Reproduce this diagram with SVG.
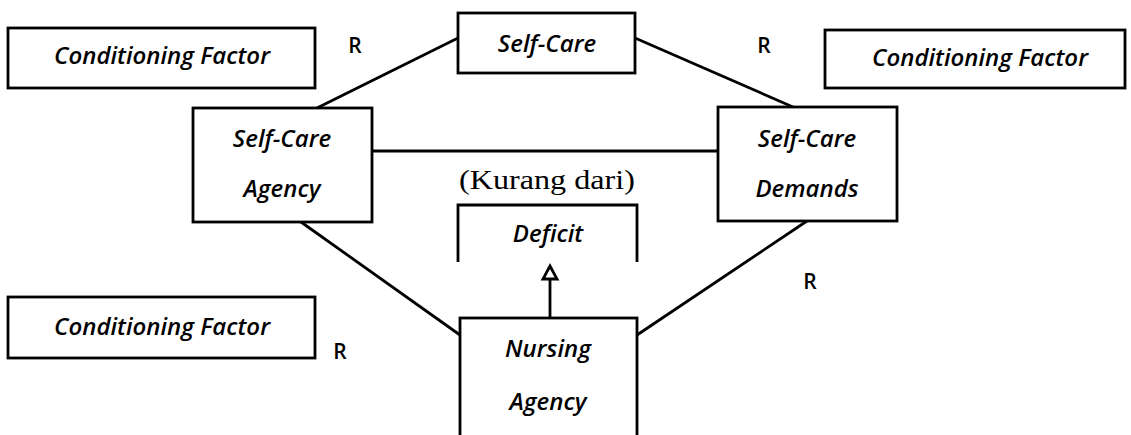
<svg xmlns="http://www.w3.org/2000/svg" width="1131" height="435" viewBox="0 0 1131 435">
<style>
.box{fill:#fff;stroke:#000;stroke-width:2.8}
.open{fill:none;stroke:#000;stroke-width:2.8}
.lbl{font-family:"Open Sans","Liberation Sans",sans-serif;font-style:italic;font-weight:600;font-size:24px;fill:#000;text-anchor:middle}
.r{font-family:"Open Sans","Liberation Sans",sans-serif;font-weight:600;font-size:21px;fill:#000;text-anchor:middle}
.ser{font-family:"Liberation Serif","DejaVu Serif",serif;font-size:27px;fill:#000;text-anchor:middle}
.con{fill:none;stroke:#000;stroke-width:2.8}
</style>
<rect width="1131" height="435" fill="#fff"/>
<g id="connectors">
<line class="con" x1="317" y1="108" x2="458" y2="38"/>
<line class="con" x1="635" y1="38" x2="793" y2="107"/>
<line class="con" x1="372" y1="151" x2="718" y2="151"/>
<line class="con" x1="301" y1="222" x2="460" y2="335"/>
<line class="con" x1="807" y1="221" x2="637" y2="335"/>
<line class="con" x1="550" y1="318" x2="550" y2="279"/>
<polygon points="550,266 543,279 557,279" fill="#fff" stroke="#000" stroke-width="2.8"/>
</g>
<g id="cf-top-left">
<rect class="box" x="8" y="28" width="307" height="60"/>
<text class="lbl" x="162" y="64">Conditioning Factor</text>
</g>
<g id="cf-top-right">
<rect class="box" x="825" y="30" width="300" height="58"/>
<text class="lbl" x="980" y="66">Conditioning Factor</text>
</g>
<g id="cf-bottom-left">
<rect class="box" x="8" y="297" width="307" height="61"/>
<text class="lbl" x="162" y="335">Conditioning Factor</text>
</g>
<g id="self-care">
<rect class="box" x="458" y="13" width="177" height="60"/>
<text class="lbl" x="547" y="52">Self-Care</text>
</g>
<g id="self-care-agency">
<rect class="box" x="193" y="108" width="179" height="114"/>
<text class="lbl" x="282" y="147">Self-Care</text>
<text class="lbl" x="282" y="197">Agency</text>
</g>
<g id="self-care-demands">
<rect class="box" x="718" y="107" width="179" height="114"/>
<text class="lbl" x="807" y="147">Self-Care</text>
<text class="lbl" x="807" y="197">Demands</text>
</g>
<g id="kurang-dari">
<text class="ser" x="547" y="189" textLength="176" lengthAdjust="spacingAndGlyphs">(Kurang dari)</text>
</g>
<g id="deficit">
<path class="open" d="M458,262 V205 H637 V262"/>
<text class="lbl" x="548" y="242">Deficit</text>
</g>
<g id="nursing-agency">
<rect class="box" x="460" y="318" width="177" height="130"/>
<text class="lbl" x="548" y="357">Nursing</text>
<text class="lbl" x="548" y="410">Agency</text>
</g>
<g id="r-labels">
<text class="r" x="355" y="53">R</text>
<text class="r" x="764" y="53">R</text>
<text class="r" x="810" y="289">R</text>
<text class="r" x="340" y="359">R</text>
</g>
</svg>
